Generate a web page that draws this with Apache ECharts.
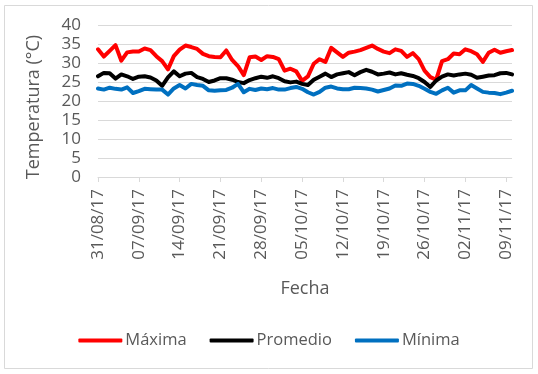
<!DOCTYPE html>
<html>
<head>
<meta charset="utf-8">
<script src="https://cdn.jsdelivr.net/npm/echarts@6/dist/echarts.min.js"></script>
<style>
html,body{margin:0;padding:0;background:#fff;}
#c{width:538px;height:374px;}
</style>
</head>
<body>
<div id="c"></div>
<script>
const fechas = [
"31/08/17",
"01/09/17","02/09/17","03/09/17","04/09/17","05/09/17","06/09/17","07/09/17","08/09/17","09/09/17","10/09/17",
"11/09/17","12/09/17","13/09/17","14/09/17","15/09/17","16/09/17","17/09/17","18/09/17","19/09/17","20/09/17",
"21/09/17","22/09/17","23/09/17","24/09/17","25/09/17","26/09/17","27/09/17","28/09/17","29/09/17","30/09/17",
"01/10/17","02/10/17","03/10/17","04/10/17","05/10/17","06/10/17","07/10/17","08/10/17","09/10/17","10/10/17",
"11/10/17","12/10/17","13/10/17","14/10/17","15/10/17","16/10/17","17/10/17","18/10/17","19/10/17","20/10/17",
"21/10/17","22/10/17","23/10/17","24/10/17","25/10/17","26/10/17","27/10/17","28/10/17","29/10/17","30/10/17","31/10/17",
"01/11/17","02/11/17","03/11/17","04/11/17","05/11/17","06/11/17","07/11/17","08/11/17","09/11/17","10/11/17"
];
const maxima = [
33.6,31.7,33.2,34.7,30.6,32.8,33.0,33.0,33.8,33.4,
31.8,30.5,28.3,31.8,33.5,34.6,34.2,33.7,32.4,31.8,
31.6,31.5,33.3,30.8,29.2,26.8,31.5,31.7,30.8,31.8,
31.6,31.0,28.0,28.5,27.8,25.3,26.5,29.8,31.0,30.3,
34.0,32.8,31.6,32.7,33.0,33.4,34.0,34.6,33.7,33.0,
32.6,33.6,33.2,31.6,32.6,31.0,28.0,26.3,25.6,30.5,
31.0,32.5,32.3,33.6,33.1,32.3,30.3,32.7,33.5,32.7,
33.1,33.4
];
const promedio = [
26.5,27.4,27.3,25.9,27.0,26.5,25.8,26.4,26.5,26.2,
25.4,24.0,26.2,27.8,26.5,27.2,27.4,26.3,25.8,25.0,
25.4,26.0,26.0,25.6,25.0,24.7,25.5,26.0,26.4,26.1,
26.5,26.0,25.2,24.9,25.1,24.5,24.2,25.6,26.4,27.2,
26.3,27.0,27.3,27.6,26.8,27.6,28.2,27.7,27.0,27.2,
27.5,27.0,27.3,26.9,26.6,26.0,25.0,23.7,25.4,26.4,
27.0,26.7,27.0,27.2,26.9,26.1,26.4,26.7,26.8,27.3,
27.4,27.0
];
const minima = [
23.3,23.0,23.5,23.2,23.0,23.6,22.1,22.6,23.2,23.1,
23.0,23.0,21.7,23.3,24.2,23.3,24.5,24.2,24.0,22.8,
22.7,22.8,22.9,23.5,24.5,22.3,23.2,22.9,23.3,23.1,
23.4,23.0,23.0,23.4,23.7,23.2,22.3,21.7,22.4,23.5,
23.8,23.3,23.1,23.1,23.5,23.4,23.3,23.0,22.5,22.9,
23.3,24.1,24.0,24.6,24.5,24.0,23.2,22.4,21.9,22.8,
23.5,22.2,22.8,22.8,24.2,23.3,22.4,22.2,22.1,21.8,
22.2,22.7
];
const seriesNames = ["Máxima","Promedio","Mínima"];
const yTicks = {min:0, max:40, step:5};

const FONT = "Open Sans";
const TXT = "#595959";
const chart = echarts.init(document.getElementById('c'), null, {renderer:'canvas'});
function mk(name, data, color){
  return {
    name, type:'line', data, symbol:'none', smooth:false,
    lineStyle:{color, width:4, cap:'round', join:'round'},
    itemStyle:{color},
    animation:false
  };
}
chart.setOption({
  animation:false,
  backgroundColor:'#fff',
  textStyle:{fontFamily:FONT},
  graphic:[{type:'rect', shape:{x:4.5,y:5.5,width:528,height:363}, style:{fill:null, stroke:'#d9d9d9', lineWidth:1}, silent:true, z:-10}],
  grid:{left:98, right:26, top:25, bottom:197, containLabel:false},
  xAxis:{
    type:'category', data:fechas, boundaryGap:false,
    axisLine:{show:true, lineStyle:{color:'#d9d9d9', width:1}},
    axisTick:{show:true, interval:6, length:5, lineStyle:{color:'#d9d9d9'}},
    axisLabel:{interval:6, rotate:90, margin:12, color:TXT, fontFamily:FONT, fontSize:17},
    splitLine:{show:false},
    name:'Fecha', nameLocation:'middle', nameGap:103,
    nameTextStyle:{color:TXT, fontFamily:FONT, fontSize:18}
  },
  yAxis:{
    type:'value', min:yTicks.min, max:yTicks.max, interval:yTicks.step,
    axisLine:{show:false}, axisTick:{show:false},
    axisLabel:{color:TXT, fontFamily:FONT, fontSize:17, margin:17},
    splitLine:{lineStyle:{color:'#d9d9d9', width:1}},
    name:'Temperatura (°C)', nameLocation:'middle', nameGap:55,
    nameTextStyle:{color:TXT, fontFamily:FONT, fontSize:18, padding:[0,12,0,0]}
  },
  legend:{
    bottom:20, left:'center', itemWidth:44, itemHeight:4, itemGap:23,
    icon:'roundRect',
    textStyle:{color:TXT, fontFamily:FONT, fontSize:16.5, padding:[0,0,0,-2]},
    data:seriesNames
  },
  series:[
    mk(seriesNames[0], maxima, '#ff0000'),
    mk(seriesNames[1], promedio, '#000000'),
    mk(seriesNames[2], minima, '#0070c0')
  ]
});
</script>
</body>
</html>
